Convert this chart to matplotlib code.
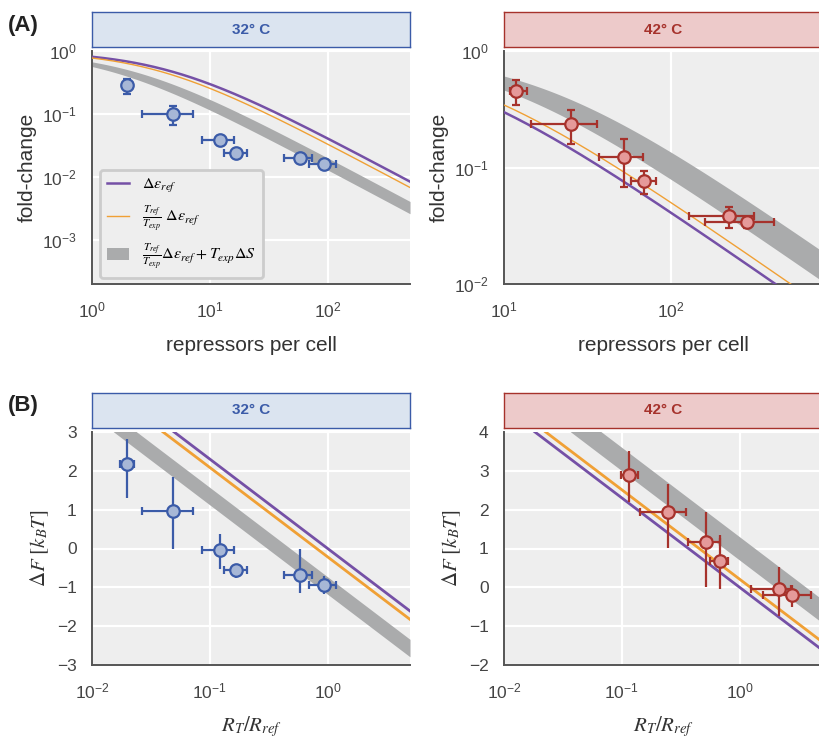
import numpy as np
import matplotlib
matplotlib.use("Agg")
import matplotlib.pyplot as plt
from matplotlib.lines import Line2D
from matplotlib.patches import Patch

plt.rcParams['font.family'] = ['Liberation Sans', 'DejaVu Sans']
plt.rcParams['mathtext.fontset'] = 'stix'

# ---------------- data ----------------
# 32 C : fold-change vs repressors
R32 = [2.0, 4.9, 12.1, 16.7, 57.8, 93.7]
R32_lo = [1.85, 2.68, 8.55, 13.2, 42.5, 69.8]
R32_hi = [2.2, 7.2, 16.1, 20.6, 74.0, 117.7]
fc32 = [0.286, 0.101, 0.039, 0.0236, 0.0203, 0.0161]
fc32_lo = [0.21, 0.066, 0.034, 0.021, 0.018, 0.0143]
fc32_hi = [0.36, 0.136, 0.044, 0.026, 0.0225, 0.018]

# 42 C : fold-change vs repressors
R42 = [11.75, 25.1, 52.5, 68.9, 221, 286]
R42_lo = [10.8, 14.6, 37.2, 57.3, 128, 160]
R42_hi = [13.7, 35.8, 68.2, 80.9, 312, 411]
fc42 = [0.457, 0.238, 0.122, 0.0764, 0.0384, 0.0339]
fc42_lo = [0.346, 0.16, 0.068, 0.0587, 0.030, 0.0305]
fc42_hi = [0.562, 0.313, 0.175, 0.0933, 0.0459, 0.0375]

# 32 C : Delta F vs R_T/R_ref
x32 = [0.020, 0.049, 0.121, 0.167, 0.578, 0.937]
x32_lo = [0.0174, 0.0268, 0.0855, 0.132, 0.425, 0.70]
x32_hi = [0.0227, 0.072, 0.161, 0.206, 0.74, 1.18]
dF32 = [2.18, 0.96, -0.04, -0.56, -0.68, -0.95]
dF32_lo = [1.31, 0.0, -0.52, -0.77, -1.14, -1.18]
dF32_hi = [2.83, 1.84, 0.37, -0.41, 0.0, -0.71]

# 42 C : Delta F vs R_T/R_ref
x42 = [0.116, 0.247, 0.515, 0.678, 2.14, 2.79]
x42_lo = [0.0975, 0.144, 0.365, 0.56, 1.26, 1.57]
x42_hi = [0.137, 0.353, 0.68, 0.80, 2.74, 4.03]
dF42 = [2.90, 1.94, 1.16, 0.675, -0.045, -0.20]
dF42_lo = [2.20, 1.02, 0.0, -0.04, -0.74, -0.50]
dF42_hi = [3.51, 2.65, 1.93, 1.34, 0.53, 0.06]

# model parameters (k_BT units)
N_NS = 4.6e6
eps_ref = -13.2
T_ref = 310.15
T_exp = {'32': 305.15, '42': 315.15}
band_eps = {'32': (-14.38, -13.93), '42': (-12.5, -11.9)}

# ---------------- style ----------------
purple = '#7550a6'
orange = '#f0a035'
bandc = '#aaabac'
bg = '#eeeeee'
blue_edge, blue_face, blue_box = '#3b5ba8', '#a7b7d6', '#dbe4f0'
red_edge, red_face, red_box = '#a6322c', '#e59a9a', '#edcaca'


def fold_change(R, eps):
    return 1.0 / (1.0 + 2.0 * R / N_NS * np.exp(-eps))


def delta_F(x, eps):
    return (eps - eps_ref) - np.log(x)


fig = plt.figure(figsize=(8.19, 7.38), dpi=100)
W, H = 819.0, 738.0


def make_ax(x0, ytop, w=318, h=233):
    ax = fig.add_axes([x0 / W, (H - ytop - h) / H, w / W, h / H])
    ax.set_facecolor(bg)
    ax.grid(True, color='white', lw=1.6, which='major')
    ax.set_axisbelow(True)
    for s in ['top', 'right']:
        ax.spines[s].set_visible(False)
    for s in ['left', 'bottom']:
        ax.spines[s].set_color('#555555')
        ax.spines[s].set_linewidth(1.4)
    ax.tick_params(length=0, labelsize=12.5, labelcolor='#444444')
    ax.tick_params(axis='y', pad=11)
    ax.tick_params(axis='x', pad=12)
    ax.minorticks_off()
    return ax


def make_box(x0, ytop, text, face, edge, w=318, h=35):
    bx = fig.add_axes([x0 / W, (H - ytop - h) / H, w / W, h / H])
    bx.set_facecolor(face)
    bx.set_xticks([]); bx.set_yticks([])
    for s in bx.spines.values():
        s.set_color(edge); s.set_linewidth(1.0)
    bx.text(0.5, 0.5, text, transform=bx.transAxes, ha='center', va='center',
            fontsize=11, fontweight='bold', color=edge)


def points(ax, x, xlo, xhi, y, ylo, yhi, face, edge, ycaps=True):
    x = np.array(x); y = np.array(y)
    xerr = [x - np.array(xlo), np.array(xhi) - x]
    yerr = [y - np.array(ylo), np.array(yhi) - y]
    ax.errorbar(x, y, xerr=xerr, fmt='none', ecolor=edge, elinewidth=1.6,
                capsize=3, capthick=1.6, zorder=4)
    ax.errorbar(x, y, yerr=yerr, fmt='none', ecolor=edge, elinewidth=1.6,
                capsize=3 if ycaps else 0, capthick=1.6, zorder=4)
    ax.plot(x, y, 'o', ms=9, mfc=face, mec=edge, mew=1.6, zorder=5)


# ---------------- (A) 32 C ----------------
ax = make_ax(92, 51)
make_box(92, 12, '32° C', blue_box, blue_edge)
R = np.logspace(0, np.log10(500), 300)
ratio = T_ref / T_exp['32']
ax.fill_between(R, fold_change(R, band_eps['32'][0]), fold_change(R, band_eps['32'][1]),
                color=bandc, lw=0, zorder=2)
ax.plot(R, fold_change(R, eps_ref), color=purple, lw=1.8, zorder=3)
ax.plot(R, fold_change(R, ratio * eps_ref), color=orange, lw=1.0, zorder=3)
points(ax, R32, R32_lo, R32_hi, fc32, fc32_lo, fc32_hi, blue_face, blue_edge)
ax.set_xscale('log'); ax.set_yscale('log')
ax.set_xlim(1, 500); ax.set_ylim(2e-4, 1)
ax.set_xticks([1, 10, 100]); ax.set_yticks([1e-3, 1e-2, 1e-1, 1])
ax.minorticks_off()
ax.set_xlabel('repressors per cell', fontsize=15, color='#333333', labelpad=11)
ax.set_ylabel('fold-change', fontsize=15, color='#333333', labelpad=4)
handles = [Line2D([], [], color=purple, lw=1.8),
           Line2D([], [], color=orange, lw=1.0),
           Patch(facecolor=bandc, edgecolor='none')]
labels = [r'$\Delta\varepsilon_{ref}$',
          r'$\frac{T_{ref}}{T_{exp}}\ \Delta\varepsilon_{ref}$',
          r'$\frac{T_{ref}}{T_{exp}}\Delta\varepsilon_{ref}+T_{exp}\Delta S$']
leg = ax.legend(handles, labels, loc='lower left', fontsize=11.5, frameon=True,
                fancybox=True, facecolor=bg, edgecolor='#cccccc',
                framealpha=1, labelspacing=0.5, borderpad=0.45,
                handlelength=1.4, handletextpad=0.8,
                bbox_to_anchor=(0.025, 0.025), borderaxespad=0)
leg.get_frame().set_linewidth(2)
fig.text(8 / W, 1 - 25 / H, '(A)', fontsize=16, fontweight='bold', va='center',
         color='#222222')

# ---------------- (A) 42 C ----------------
ax = make_ax(504, 51)
make_box(504, 12, '42° C', red_box, red_edge)
R = np.logspace(1, np.log10(800), 300)
ratio = T_ref / T_exp['42']
ax.fill_between(R, fold_change(R, band_eps['42'][0]), fold_change(R, band_eps['42'][1]),
                color=bandc, lw=0, zorder=2)
ax.plot(R, fold_change(R, eps_ref), color=purple, lw=1.8, zorder=3)
ax.plot(R, fold_change(R, ratio * eps_ref), color=orange, lw=1.0, zorder=3)
points(ax, R42, R42_lo, R42_hi, fc42, fc42_lo, fc42_hi, red_face, red_edge)
ax.set_xscale('log'); ax.set_yscale('log')
ax.set_xlim(10, 800); ax.set_ylim(1e-2, 1)
ax.set_xticks([10, 100]); ax.set_yticks([1e-2, 1e-1, 1])
ax.minorticks_off()
ax.set_xlabel('repressors per cell', fontsize=15, color='#333333', labelpad=11)
ax.set_ylabel('fold-change', fontsize=15, color='#333333', labelpad=4)

# ---------------- (B) 32 C ----------------
ax = make_ax(92, 432)
make_box(92, 393, '32° C', blue_box, blue_edge)
x = np.logspace(-2, np.log10(5), 200)
ratio = T_ref / T_exp['32']
ax.fill_between(x, delta_F(x, band_eps['32'][0]), delta_F(x, band_eps['32'][1]),
                color=bandc, lw=0, zorder=2)
ax.plot(x, delta_F(x, eps_ref), color=purple, lw=2, zorder=3)
ax.plot(x, delta_F(x, ratio * eps_ref), color=orange, lw=2, zorder=3)
points(ax, x32, x32_lo, x32_hi, dF32, dF32_lo, dF32_hi, blue_face, blue_edge, ycaps=False)
ax.set_xscale('log')
ax.set_xlim(0.01, 5); ax.set_ylim(-3, 3)
ax.set_xticks([0.01, 0.1, 1]); ax.set_yticks(range(-3, 4))
ax.minorticks_off()
ax.set_xlabel(r'$R_T/R_{ref}$', fontsize=15, color='#333333', labelpad=9)
ax.set_ylabel(r'$\Delta F\ [k_BT]$', fontsize=15, color='#333333', labelpad=4)
fig.text(8 / W, 1 - 405 / H, '(B)', fontsize=16, fontweight='bold', va='center',
         color='#222222')

# ---------------- (B) 42 C ----------------
ax = make_ax(504, 432)
make_box(504, 393, '42° C', red_box, red_edge)
ratio = T_ref / T_exp['42']
ax.fill_between(x, delta_F(x, band_eps['42'][0]), delta_F(x, band_eps['42'][1]),
                color=bandc, lw=0, zorder=2)
ax.plot(x, delta_F(x, eps_ref), color=purple, lw=2, zorder=3)
ax.plot(x, delta_F(x, ratio * eps_ref), color=orange, lw=2, zorder=3)
points(ax, x42, x42_lo, x42_hi, dF42, dF42_lo, dF42_hi, red_face, red_edge, ycaps=False)
ax.set_xscale('log')
ax.set_xlim(0.01, 5); ax.set_ylim(-2, 4)
ax.set_xticks([0.01, 0.1, 1]); ax.set_yticks(range(-2, 5))
ax.minorticks_off()
ax.set_xlabel(r'$R_T/R_{ref}$', fontsize=15, color='#333333', labelpad=9)
ax.set_ylabel(r'$\Delta F\ [k_BT]$', fontsize=15, color='#333333', labelpad=4)

fig.savefig('out.png', dpi=100)
